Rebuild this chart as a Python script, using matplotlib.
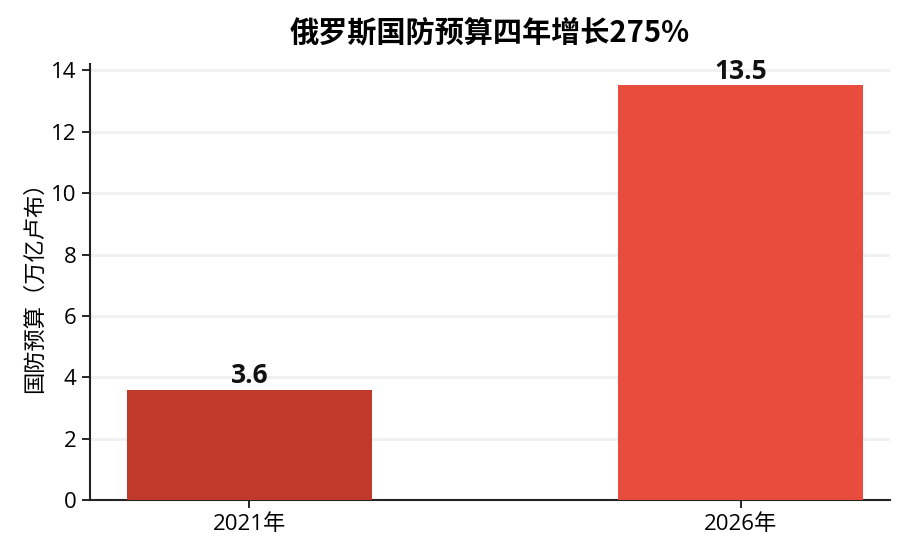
import matplotlib
matplotlib.use("Agg")
import matplotlib.pyplot as plt

plt.rcParams['font.family'] = ['Open Sans', 'Noto Sans CJK SC', 'DejaVu Sans']

years = ['2021年', '2026年']
budget = [3.6, 13.5]
bar_colors = ['#c0392b', '#e74c3c']
title = '俄罗斯国防预算四年增长275%'
ylabel = '国防预算（万亿卢布）'

fig = plt.figure(figsize=(9.16, 5.56), dpi=100)
ax = fig.add_axes([0.098, 0.100, 0.874, 0.785])

x = range(len(years))
bars = ax.bar(x, budget, width=0.5, color=bar_colors, zorder=3)

for b, v in zip(bars, budget):
    ax.text(b.get_x() + b.get_width() / 2, v + 0.02, f'{v}', ha='center', va='bottom',
            fontsize=19, fontweight='bold', color='#111111', zorder=4)

ax.set_xticks(list(x))
ax.set_xticklabels(years, fontsize=16)
ax.set_xlim(-0.325, 1.305)
ax.set_ylim(0, 14.2)
ax.set_yticks(range(0, 15, 2))
ax.tick_params(axis='y', labelsize=16, length=6, width=1.2)
ax.tick_params(axis='x', length=6, width=1.2)
ax.set_ylabel(ylabel, fontsize=16, family=['Noto Sans CJK SC', 'DejaVu Sans'])
ax.set_title(title, fontsize=21, fontweight='bold', pad=16,
             family=['Noto Sans CJK SC', 'DejaVu Sans'])

ax.yaxis.grid(True, color='#f0f0f0', linewidth=2, zorder=0)
ax.spines['top'].set_visible(False)
ax.spines['right'].set_visible(False)
ax.spines['left'].set_linewidth(1.5)
ax.spines['bottom'].set_linewidth(1.5)
ax.spines['left'].set_color('#222222')
ax.spines['bottom'].set_color('#222222')

plt.savefig('out.png', dpi=100)
